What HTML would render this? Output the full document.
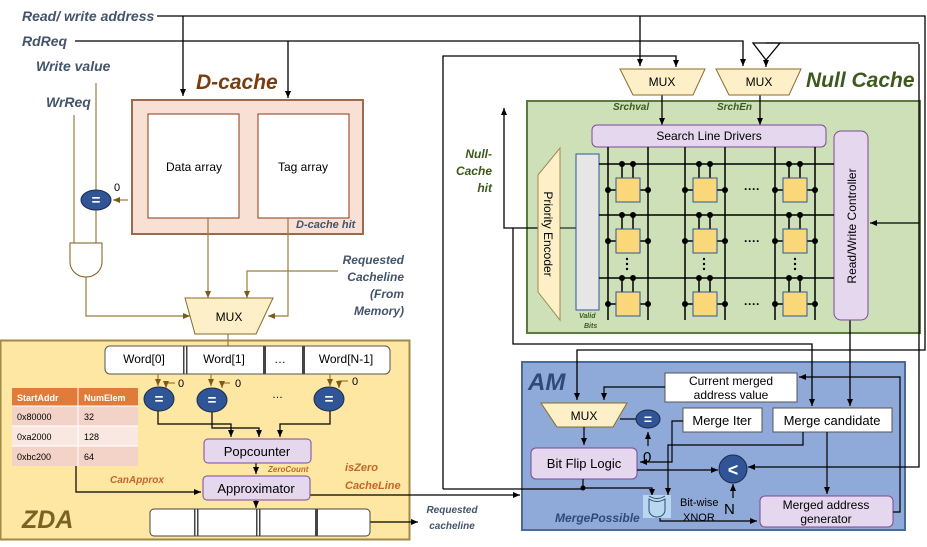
<!DOCTYPE html>
<html><head><meta charset="utf-8"><style>
body{margin:0;background:#fff}
svg{display:block;font-family:"Liberation Sans",sans-serif}
.lbl{font-weight:bold;font-style:italic;fill:#44546a}
</style></head><body>
<svg width="927" height="547" viewBox="0 0 927 547" xmlns="http://www.w3.org/2000/svg">
<defs>
<marker id="a" markerWidth="8" markerHeight="8" refX="7" refY="4" orient="auto" markerUnits="userSpaceOnUse"><path d="M0,1 L7,4 L0,7z" fill="#000"/></marker>
<marker id="t" markerWidth="8" markerHeight="8" refX="7" refY="4" orient="auto" markerUnits="userSpaceOnUse"><path d="M0,1 L7,4 L0,7z" fill="#7a5a1a"/></marker>
<g id="cell">
<line x1="14" y1="0" x2="14" y2="14" stroke="#000" stroke-width="1.5"/>
<line x1="25" y1="0" x2="25" y2="14" stroke="#000" stroke-width="1.5"/>
<line x1="0" y1="26" x2="8" y2="26" stroke="#000" stroke-width="1.5"/>
<line x1="32" y1="26" x2="40" y2="26" stroke="#000" stroke-width="1.5"/>
<rect x="8" y="14" width="24" height="24" fill="#fad87a" stroke="#2f5597"/>
<circle cx="14" cy="0" r="3"/><circle cx="25" cy="0" r="3"/>
<circle cx="0" cy="26" r="3"/><circle cx="40" cy="26" r="3"/>
</g>
</defs>

<rect x="0.5" y="340.5" width="409" height="199" fill="#fde7a2" stroke="#a08a4a" stroke-width="2"/>
<rect x="522" y="362" width="383" height="168" fill="#8fa9d8" stroke="#4a6a9a" stroke-width="2"/>
<rect x="527" y="101" width="393" height="232" fill="#cde0b8" stroke="#5a7a3e" stroke-width="2"/>

<text x="22" y="21" class="lbl" font-size="14">Read/ write address</text>
<text x="22" y="46" class="lbl" font-size="14">RdReq</text>
<text x="36" y="71" class="lbl" font-size="14">Write value</text>
<text x="46" y="107" class="lbl" font-size="14">WrReq</text>

<g stroke="#000" stroke-width="1.3" fill="none">
<path d="M157,16 H925 V350 H577 V400" marker-end="url(#a)"/>
<path d="M183,16 V96" marker-end="url(#a)"/>
<path d="M640,16 V66" marker-end="url(#a)"/>
<path d="M75,41 H743 V66" marker-end="url(#a)"/>
<path d="M288,41 V98" marker-end="url(#a)"/>
<path d="M919,44 V467 H748" marker-end="url(#a)"/>
<path d="M766,43 H919"/>
<path d="M753,43 L780,43 L766,60 Z"/>
<path d="M766,60 V67" marker-end="url(#a)"/>
<path d="M443,489 V56 H676 V67" marker-end="url(#a)"/>
<path d="M919,223 H870" marker-end="url(#a)"/>
<path d="M538,228 H504 V108" marker-end="url(#a)"/>
<path d="M513,228 V344 H812 V406" marker-end="url(#a)"/>
<path d="M850,320 V406" marker-end="url(#a)"/>
<path d="M662,95 V125" marker-end="url(#a)"/>
<path d="M760,95 V125" marker-end="url(#a)"/>
</g>

<text x="196" y="89" font-size="21" font-weight="bold" font-style="italic" fill="#7a3d10">D-cache</text>
<rect x="132" y="100" width="231" height="134" fill="#f8e0d4" stroke="#9c6a4e" stroke-width="2"/>
<rect x="148" y="114" width="91" height="104" fill="#fff" stroke="#8a3a1a"/>
<rect x="258" y="114" width="91" height="104" fill="#fff" stroke="#8a3a1a"/>
<text x="194" y="171" font-size="12" text-anchor="middle">Data array</text>
<text x="303" y="171" font-size="12" text-anchor="middle">Tag array</text>
<text x="296" y="228" font-size="11" class="lbl" fill="#3d4a6b">D-cache hit</text>

<g stroke="#9c7c3a" stroke-width="1.2" fill="none">
<path d="M96,83 V190"/>
<path d="M74,115 V243"/>
<path d="M96,210 V243"/>
<path d="M128,200 H113" marker-end="url(#t)"/>
<path d="M86,277 V316 H190" marker-end="url(#t)"/>
<path d="M208,218 V298" marker-end="url(#t)"/>
<path d="M288,218 V316 H268" marker-end="url(#t)"/>
<path d="M338,271 H247 V298" marker-end="url(#t)"/>
<path d="M228,334 V346"/>
</g>
<path d="M70,243 H102 V262 A16,15 0 0 1 70,262 Z" fill="#fff" stroke="#7a5a1a"/>
<ellipse cx="96" cy="200" rx="15" ry="10" fill="#2f5597" stroke="#1a2a4a"/>
<text x="96" y="205" font-size="15" font-weight="bold" fill="#fff" text-anchor="middle">=</text>
<text x="114" y="191" font-size="11">0</text>
<polygon points="185,298 273,298 256,334 195,334" fill="#fdf0c8" stroke="#8a6a2a"/>
<text x="229" y="321" font-size="12" text-anchor="middle">MUX</text>
<g class="lbl" font-size="12" text-anchor="end">
<text x="404" y="264">Requested</text><text x="404" y="281">Cacheline</text>
<text x="404" y="298">(From</text><text x="404" y="315">Memory)</text>
</g>

<rect x="105" y="346" width="285" height="28" rx="5" fill="#fff" stroke="#555"/>
<g fill="#444"><rect x="183" y="346" width="1.5" height="28"/><rect x="186" y="346" width="1.5" height="28"/>
<rect x="263" y="346" width="3" height="28"/><rect x="302" y="346" width="3" height="28"/></g>
<g font-size="12" text-anchor="middle"><text x="144" y="363">Word[0]</text><text x="224" y="363">Word[1]</text><text x="280" y="363">…</text><text x="346" y="363">Word[N-1]</text></g>
<g stroke="#9c7c3a" stroke-width="1.2" fill="none">
<path d="M158,374 V386" marker-end="url(#t)"/><path d="M175,383 H166 V388" marker-end="url(#t)"/>
<path d="M211,374 V386" marker-end="url(#t)"/><path d="M230,383 H222 V388" marker-end="url(#t)"/>
<path d="M330,374 V386" marker-end="url(#t)"/><path d="M348,381 H339 V388" marker-end="url(#t)"/>
</g>
<g font-size="11"><text x="178" y="387">0</text><text x="235" y="387">0</text><text x="352" y="385">0</text></g>
<text x="272" y="398" font-size="11">…</text>
<g stroke="#000" stroke-width="1.2" fill="none">
<path d="M158,410 V424 H231 V437" marker-end="url(#a)"/>
<path d="M212,410 V428 H259 V437" marker-end="url(#a)"/>
<path d="M330,410 V424 H280 V437" marker-end="url(#a)"/>
<path d="M256,463 V474" marker-end="url(#a)"/>
<path d="M76,466 V492 H201" marker-end="url(#a)"/>
<path d="M256,500 V508" marker-end="url(#a)"/>
<path d="M370,522 H418" marker-end="url(#a)"/>
<path d="M310,495 H520" marker-end="url(#a)"/>
</g>
<g fill="#2f5597" stroke="#1a2a4a"><ellipse cx="159" cy="399" rx="15" ry="12"/><ellipse cx="212" cy="400" rx="15" ry="12"/><ellipse cx="329" cy="399" rx="15" ry="12"/></g>
<g font-size="15" font-weight="bold" fill="#fff" text-anchor="middle"><text x="159" y="404">=</text><text x="212" y="405">=</text><text x="329" y="404">=</text></g>
<rect x="12" y="388" width="126" height="18" fill="#e07b39"/>
<rect x="12" y="406" width="126" height="20" fill="#f3d3c8"/>
<rect x="12" y="426" width="126" height="20" fill="#f9e8e2"/>
<rect x="12" y="446" width="126" height="20" fill="#f3d3c8"/>
<g stroke="#fff" stroke-width="1"><line x1="78" y1="388" x2="78" y2="466"/><line x1="12" y1="406" x2="138" y2="406"/><line x1="12" y1="426" x2="138" y2="426"/><line x1="12" y1="446" x2="138" y2="446"/></g>
<g font-size="9"><text x="17" y="401" fill="#fff" font-weight="bold">StartAddr</text><text x="84" y="401" fill="#fff" font-weight="bold">NumElem</text>
<text x="17" y="420">0x80000</text><text x="84" y="420">32</text>
<text x="17" y="440">0xa2000</text><text x="84" y="440">128</text>
<text x="17" y="460">0xbc200</text><text x="84" y="460">64</text></g>
<rect x="204" y="439" width="107" height="24" rx="4" fill="#e4d7ee" stroke="#7b4a99"/>
<text x="257" y="456" font-size="13" text-anchor="middle">Popcounter</text>
<rect x="203" y="476" width="107" height="24" rx="4" fill="#e4d7ee" stroke="#7b4a99"/>
<text x="256" y="493" font-size="13" text-anchor="middle">Approximator</text>
<g font-weight="bold" font-style="italic" fill="#c5652a"><text x="268" y="472" font-size="8">ZeroCount</text>
<text x="345" y="471" font-size="11">isZero</text><text x="345" y="489" font-size="11">CacheLine</text>
<text x="110" y="483" font-size="10">CanApprox</text></g>
<text x="22" y="528" font-size="25" font-weight="bold" font-style="italic" fill="#7a6224">ZDA</text>
<rect x="150" y="509" width="220" height="27" rx="4" fill="#fff" stroke="#444"/>
<g fill="#444"><rect x="194" y="509" width="1.5" height="27"/><rect x="197" y="509" width="1.5" height="27"/>
<rect x="256" y="509" width="1.5" height="27"/><rect x="259" y="509" width="1.5" height="27"/><rect x="315" y="509" width="3" height="27"/></g>
<g class="lbl" font-size="10" text-anchor="middle"><text x="452" y="513">Requested</text><text x="452" y="529">cacheline</text></g>

<polygon points="620,69 705,69 693,95 633,95" fill="#fdf0c8" stroke="#8a6a2a"/>
<polygon points="716,69 801,69 789,95 729,95" fill="#fdf0c8" stroke="#8a6a2a"/>
<text x="662" y="86" font-size="12" text-anchor="middle">MUX</text>
<text x="759" y="86" font-size="12" text-anchor="middle">MUX</text>
<text x="806" y="87" font-size="21" font-weight="bold" font-style="italic" fill="#3d5a1e">Null Cache</text>
<g font-size="10" font-weight="bold" font-style="italic" fill="#3d5a1e"><text x="613" y="110">Srchval</text><text x="717" y="110">SrchEn</text>
<g font-size="12" text-anchor="end"><text x="492" y="158">Null-</text><text x="492" y="175">Cache</text><text x="492" y="192">hit</text></g>
<text x="579" y="318" font-size="7">Valid</text><text x="584" y="328" font-size="7">Bits</text></g>
<rect x="592" y="125" width="234" height="22" rx="5" fill="#e4d7ee" stroke="#7b4a99"/>
<text x="709" y="140" font-size="12" text-anchor="middle">Search Line Drivers</text>
<rect x="834" y="131" width="34" height="189" rx="7" fill="#e4d7ee" stroke="#7b4a99"/>
<text transform="translate(856,226) rotate(-90)" font-size="12" text-anchor="middle">Read/Write Controller</text>
<polygon points="538,175 560,148 560,320 538,292" fill="#fdf0c8" stroke="#a08a4a"/>
<text transform="translate(544,234) rotate(90)" font-size="12" text-anchor="middle">Priority Encoder</text>
<line x1="560" y1="228" x2="576" y2="228" stroke="#000"/>
<rect x="576" y="154" width="23" height="156" fill="#e6e6e6" stroke="#2f5597"/>
<g stroke="#000" stroke-width="1.5">
<line x1="599" y1="164" x2="834" y2="164"/><line x1="599" y1="215" x2="834" y2="215"/><line x1="599" y1="278" x2="834" y2="278"/>
<line x1="608" y1="147" x2="608" y2="320"/><line x1="648" y1="147" x2="648" y2="320"/>
<line x1="685" y1="147" x2="685" y2="320"/><line x1="725" y1="147" x2="725" y2="320"/>
<line x1="775" y1="147" x2="775" y2="320"/><line x1="815" y1="147" x2="815" y2="320"/>
</g>
<use href="#cell" x="608" y="164"/><use href="#cell" x="685" y="164"/><use href="#cell" x="775" y="164"/>
<use href="#cell" x="608" y="215"/><use href="#cell" x="685" y="215"/><use href="#cell" x="775" y="215"/>
<use href="#cell" x="608" y="278"/><use href="#cell" x="685" y="278"/><use href="#cell" x="775" y="278"/>
<g font-size="12" font-weight="bold" text-anchor="middle"><text x="752" y="193">····</text><text x="752" y="245">····</text><text x="752" y="308">····</text></g>
<g fill="#000"><circle cx="627" cy="259" r="1.2"/><circle cx="627" cy="264" r="1.2"/><circle cx="627" cy="269" r="1.2"/>
<circle cx="704" cy="259" r="1.2"/><circle cx="704" cy="264" r="1.2"/><circle cx="704" cy="269" r="1.2"/>
<circle cx="795" cy="259" r="1.2"/><circle cx="795" cy="264" r="1.2"/><circle cx="795" cy="269" r="1.2"/></g>

<text x="528" y="390" font-size="24" font-weight="bold" font-style="italic" fill="#2f4a78">AM</text>
<rect x="665" y="373" width="132" height="29" fill="#fff" stroke="#555"/>
<text x="731" y="385" font-size="12" text-anchor="middle">Current merged</text>
<text x="731" y="399" font-size="12" text-anchor="middle">address value</text>
<polygon points="541,403 627,403 613,427 557,427" fill="#fdf0c8" stroke="#8a6a2a"/>
<text x="584" y="420" font-size="12" text-anchor="middle">MUX</text>
<rect x="683" y="408" width="79" height="24" fill="#fff" stroke="#555"/>
<text x="722" y="425" font-size="13" text-anchor="middle">Merge Iter</text>
<rect x="773" y="408" width="119" height="24" fill="#fff" stroke="#555"/>
<text x="832" y="425" font-size="13" text-anchor="middle">Merge candidate</text>
<rect x="531" y="448" width="106" height="31" rx="5" fill="#e4d7ee" stroke="#7b4a99"/>
<text x="584" y="468" font-size="13" text-anchor="middle">Bit Flip Logic</text>
<rect x="760" y="496" width="133" height="31" rx="5" fill="#e4d7ee" stroke="#7b4a99"/>
<text x="826" y="509" font-size="12" text-anchor="middle">Merged address</text>
<text x="826" y="523" font-size="12" text-anchor="middle">generator</text>
<g stroke="#000" stroke-width="1.2" fill="none">
<path d="M665,387 H604 V400" marker-end="url(#a)"/>
<path d="M620,419 H636"/>
<path d="M683,421 H672 V462 H640" marker-end="url(#a)"/>
<path d="M803,432 V445 H668 V495" marker-end="url(#a)"/>
<path d="M648,446 V432" marker-end="url(#a)"/>
<path d="M584,427 V445" marker-end="url(#a)"/>
<path d="M637,470 H718" marker-end="url(#a)"/>
<path d="M733,498 V484" marker-end="url(#a)"/>
<path d="M583,479 V488 H652 V496" marker-end="url(#a)"/>
<path d="M443,489 H583"/>
<path d="M827,432 V494" marker-end="url(#a)"/>
<path d="M660,518 V521 H757" marker-end="url(#a)"/>
<path d="M893,512 H900 V377 H799" marker-end="url(#a)"/>
</g>
<circle cx="583" cy="488" r="2.5"/>
<ellipse cx="648" cy="419" rx="12" ry="9" fill="#2f5597" stroke="#1a2a4a"/>
<text x="648" y="424" font-size="14" font-weight="bold" fill="#fff" text-anchor="middle">=</text>
<text x="643" y="462" font-size="15">0</text>
<circle cx="733" cy="469" r="14" fill="#2f5597" stroke="#1a2a4a"/>
<text x="733" y="476" font-size="18" font-weight="bold" fill="#fff" text-anchor="middle">&lt;</text>
<text x="724" y="514" font-size="15">N</text>
<rect x="643" y="495" width="28" height="23" fill="#b8d8f0"/>
<path d="M649,499 V510 A8,7 0 0 0 665,510 V499 Q657,504 649,499 Z" fill="none" stroke="#2f4a78"/>
<path d="M649,496 Q657,501 665,496" fill="none" stroke="#2f4a78"/>
<text x="680" y="506" font-size="11">Bit-wise</text>
<text x="683" y="521" font-size="11">XNOR</text>
<text x="555" y="522" font-size="12" font-weight="bold" font-style="italic" fill="#2f4a78">MergePossible</text>
</svg>
</body></html>
